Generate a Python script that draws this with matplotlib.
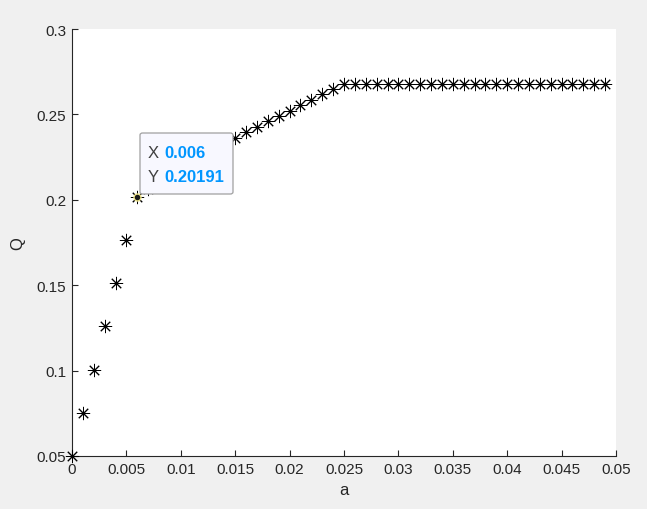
import matplotlib
matplotlib.use("Agg")
import matplotlib.pyplot as plt
from matplotlib.patches import FancyBboxPatch

plt.rcParams['font.family'] = ['Liberation Sans', 'DejaVu Sans']

a_vals = [0.000, 0.001, 0.002, 0.003, 0.004, 0.005, 0.006, 0.007, 0.008, 0.009,
          0.010, 0.011, 0.012, 0.013, 0.014, 0.015, 0.016, 0.017, 0.018, 0.019,
          0.020, 0.021, 0.022, 0.023, 0.024, 0.025, 0.026, 0.027, 0.028, 0.029,
          0.030, 0.031, 0.032, 0.033, 0.034, 0.035, 0.036, 0.037, 0.038, 0.039,
          0.040, 0.041, 0.042, 0.043, 0.044, 0.045, 0.046, 0.047, 0.048, 0.049]
q_vals = [0.0500, 0.0753, 0.1006, 0.1259, 0.1513, 0.1766, 0.20191, 0.2065, 0.2105, 0.2140,
          0.2175, 0.2210, 0.2245, 0.2280, 0.2320, 0.2360, 0.2395, 0.2424, 0.2460, 0.2488,
          0.2522, 0.2555, 0.2586, 0.2619, 0.2650, 0.2678, 0.2678, 0.2678, 0.2678, 0.2678,
          0.2678, 0.2678, 0.2678, 0.2678, 0.2678, 0.2678, 0.2678, 0.2678, 0.2678, 0.2678,
          0.2678, 0.2678, 0.2678, 0.2678, 0.2678, 0.2678, 0.2678, 0.2678, 0.2678, 0.2678]
x_ticks = [0, 0.005, 0.01, 0.015, 0.02, 0.025, 0.03, 0.035, 0.04, 0.045, 0.05]
x_ticklabels = ['0', '0.005', '0.01', '0.015', '0.02', '0.025', '0.03', '0.035', '0.04', '0.045', '0.05']
y_ticks = [0.05, 0.1, 0.15, 0.2, 0.25, 0.3]
y_ticklabels = ['0.05', '0.1', '0.15', '0.2', '0.25', '0.3']
tip_x = 0.006
tip_y = 0.20191

fig = plt.figure(figsize=(6.47, 5.10), dpi=100, facecolor='#F0F0F0')
ax = fig.add_axes([72/647, 1-457/510, (616-72)/647, (457-30)/510])
ax.set_facecolor('white')

ax.plot(a_vals, q_vals, linestyle='none', marker=(8, 2, 0), markersize=9.5,
        markeredgewidth=0.7, color='black', clip_on=False, zorder=3)

ax.set_xlim(0, 0.05)
ax.set_ylim(0.05, 0.3)
ax.set_xticks(x_ticks)
ax.set_xticklabels(x_ticklabels)
ax.set_yticks(y_ticks)
ax.set_yticklabels(y_ticklabels)
for s in ['top', 'right']:
    ax.spines[s].set_visible(False)
for s in ['left', 'bottom']:
    ax.spines[s].set_color('#262626')
    ax.spines[s].set_linewidth(0.8)
ax.tick_params(direction='in', length=4, width=0.8, colors='#262626',
               labelsize=11, labelcolor='#262626', pad=4)
ax.set_xlabel('a', fontsize=12, color='#262626', labelpad=5)
ax.set_ylabel('Q', fontsize=12, color='#262626', labelpad=8)

# data tip
ax.plot([tip_x], [tip_y], marker='o', markersize=5, color='#1a1a1a',
        markeredgecolor='#f0e68c', markeredgewidth=1.0, zorder=6, clip_on=False)
bx0, by0 = 140, 195
bx1, by1 = 233, 134
box = FancyBboxPatch((bx0/647, 1-by0/510), (bx1-bx0)/647, (by0-by1)/510,
                     boxstyle='round,pad=0,rounding_size=0.004',
                     transform=fig.transFigure, facecolor='#F8F8FF',
                     edgecolor='#A0A0A0', linewidth=0.9, zorder=10)
fig.patches.append(box)
fig.text(148/647, 1-154/510, 'X', fontsize=12, color='#404040', va='center', zorder=11)
fig.text(164/647, 1-154/510, '0.006', fontsize=12, color='#0096FF', fontweight='bold', va='center', zorder=11)
fig.text(148/647, 1-177/510, 'Y', fontsize=12, color='#404040', va='center', zorder=11)
fig.text(164/647, 1-177/510, '0.20191', fontsize=12, color='#0096FF', fontweight='bold', va='center', zorder=11)

fig.savefig('out.png', dpi=100, facecolor=fig.get_facecolor())
